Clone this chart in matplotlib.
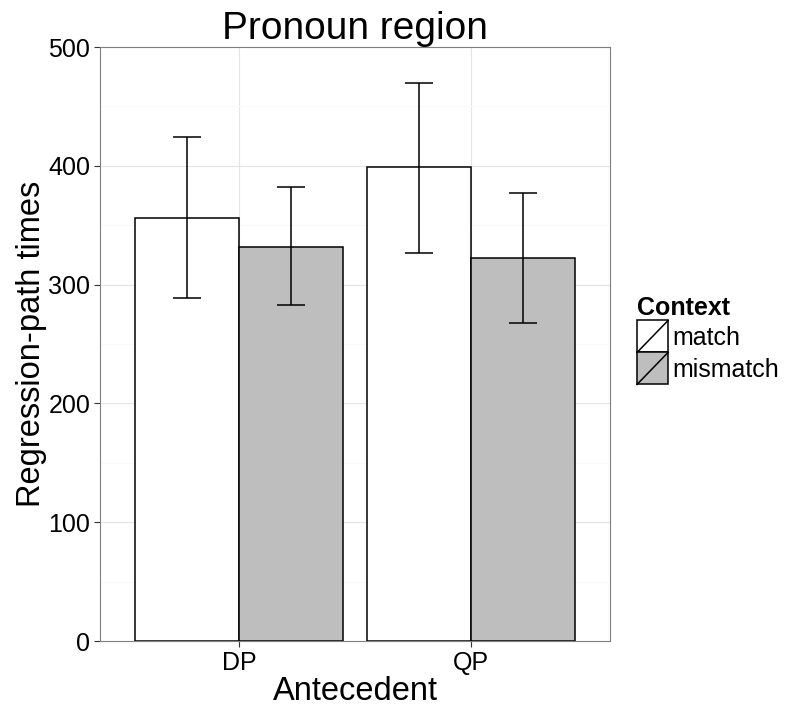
import matplotlib
matplotlib.use("Agg")
import matplotlib.pyplot as plt
import numpy as np
from matplotlib.legend_handler import HandlerBase
from matplotlib.patches import Rectangle
from matplotlib.lines import Line2D

plt.rcParams["font.family"] = ["Liberation Sans", "DejaVu Sans"]

antecedents = ["DP", "QP"]
contexts = ["match", "mismatch"]
colors = ["white", "#bebebe"]
means = {"match": [356, 399], "mismatch": [332, 322]}
lower = {"match": [289, 327], "mismatch": [283, 268]}
upper = {"match": [424, 470], "mismatch": [382, 377]}


class SlashKeyHandler(HandlerBase):
    def create_artists(self, legend, orig_handle, xdescent, ydescent,
                       width, height, fontsize, trans):
        rect = Rectangle((-xdescent, -ydescent), width, height,
                         facecolor=orig_handle.get_facecolor(),
                         edgecolor="black", linewidth=1.1, transform=trans)
        line = Line2D([-xdescent, -xdescent + width],
                      [-ydescent, -ydescent + height],
                      color="black", linewidth=1.1, transform=trans)
        return [rect, line]


fig = plt.figure(figsize=(7.85, 7.09), dpi=100)
ax = fig.add_axes([0.1274, 0.0959, 0.6497, 0.8378])

x = np.arange(1, len(antecedents) + 1)
bar_w = 0.45
handles = []
for i, ctx in enumerate(contexts):
    pos = x + (i - 0.5) * bar_w
    b = ax.bar(pos, means[ctx], width=bar_w, color=colors[i],
               edgecolor="black", linewidth=1.1, zorder=2, label=ctx)
    handles.append(b.patches[0])
    m = np.array(means[ctx])
    err = [m - np.array(lower[ctx]), np.array(upper[ctx]) - m]
    ax.errorbar(pos, m, yerr=err, fmt="none", ecolor="black",
                elinewidth=1.1, capsize=10, capthick=1.1, zorder=3)

ax.set_xlim(0.4, 2.6)
ax.set_ylim(0, 500)
ax.set_yticks([0, 100, 200, 300, 400, 500])
ax.set_yticks([50, 150, 250, 350, 450], minor=True)
ax.set_xticks(x)
ax.set_xticklabels(antecedents)

ax.grid(which="major", color="#e5e5e5", linewidth=0.8, zorder=0)
ax.grid(which="minor", axis="y", color="#fafafa", linewidth=0.8, zorder=0)
ax.set_axisbelow(True)
for s in ax.spines.values():
    s.set_color("#7f7f7f")
    s.set_linewidth(0.8)

ax.tick_params(which="major", length=4, color="#333333", width=0.8,
               labelsize=18, labelcolor="black", pad=3)
ax.tick_params(which="minor", length=0)

ax.set_title("Pronoun region", fontsize=28, pad=1)
ax.set_xlabel("Antecedent", fontsize=23.5, labelpad=1)
ax.set_ylabel("Regression-path times", fontsize=23.5, labelpad=1)

leg = ax.legend(handles, contexts, handler_map={Rectangle: SlashKeyHandler()},
                title="Context", loc="upper left", bbox_to_anchor=(1.053, 0.58),
                frameon=False, fontsize=18, handlelength=1.24, handleheight=1.59,
                labelspacing=0.0, handletextpad=0.16, borderpad=0,
                borderaxespad=0, alignment="left")
leg.get_title().set_fontweight("bold")
leg.get_title().set_fontsize(18)

fig.savefig("out.png", dpi=100)
